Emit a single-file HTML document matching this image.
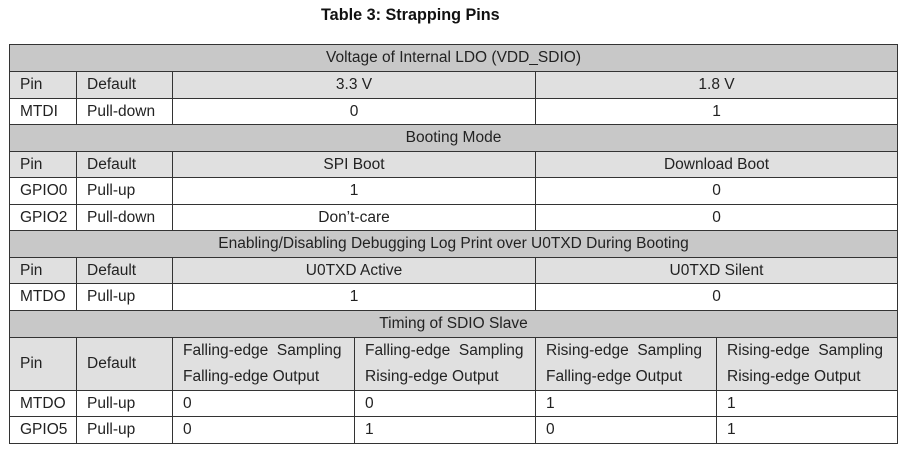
<!DOCTYPE html>
<html><head><meta charset="utf-8"><style>
body{margin:0;width:899px;height:457px;background:#fff;position:relative;overflow:hidden;font-family:"Liberation Sans",Arial,sans-serif;font-size:15.5px;color:#222}
.c{position:absolute;box-sizing:border-box;border:1px solid #333;display:flex;align-items:center;padding-left:10px;white-space:nowrap;line-height:26px}
.s{background:#c8c8c8;justify-content:center;padding:0}
.h{background:#e0e0e0}
.m{justify-content:center;padding:0}
.t{position:absolute;left:321px;top:6px;font-weight:bold;font-size:16.2px;color:#111}
</style></head><body>
<div class="t">Table 3: Strapping Pins</div>
<div id="g"></div>
<script>
var g=document.getElementById('g');
function c(x1,y1,x2,y2,txt,cls){var d=document.createElement('div');d.className='c '+(cls||'');d.style.left=x1+'px';d.style.top=y1+'px';d.style.width=(x2-x1+1)+'px';d.style.height=(y2-y1+1)+'px';d.innerHTML=txt;g.appendChild(d);}
function sec(y1,y2,t){c(9,y1,897,y2,t,'s');}
function row4(y1,y2,a,b,p,q,cls){c(9,y1,76,y2,a,cls);c(76,y1,172,y2,b,cls);c(172,y1,535,y2,p,(cls||'')+' m');c(535,y1,897,y2,q,(cls||'')+' m');}
sec(44,71,'Voltage of Internal LDO (VDD_SDIO)');
row4(71,98,'Pin','Default','3.3 V','1.8 V','h');
row4(98,124,'MTDI','Pull-down','0','1');
sec(124,151,'Booting Mode');
row4(151,177,'Pin','Default','SPI Boot','Download Boot','h');
row4(177,204,'GPIO0','Pull-up','1','0');
row4(204,230,'GPIO2','Pull-down','Don’t-care','0');
sec(230,257,'Enabling/Disabling Debugging Log Print over U0TXD During Booting');
row4(257,283,'Pin','Default','U0TXD Active','U0TXD Silent','h');
row4(283,310,'MTDO','Pull-up','1','0');
sec(310,337,'Timing of SDIO Slave');
var T=[172,354,535,716,897];
c(9,337,76,390,'Pin','h');c(76,337,172,390,'Default','h');
var hh=['Falling-edge&nbsp; Sampling<br>Falling-edge Output','Falling-edge&nbsp; Sampling<br>Rising-edge Output','Rising-edge&nbsp; Sampling<br>Falling-edge Output','Rising-edge&nbsp; Sampling<br>Rising-edge Output'];
for(var i=0;i<4;i++)c(T[i],337,T[i+1],390,'<span style="line-height:26px">'+hh[i]+'</span>','h');
var r1=['0','0','1','1'],r2=['0','1','0','1'];
c(9,390,76,416,'MTDO');c(76,390,172,416,'Pull-up');
for(i=0;i<4;i++)c(T[i],390,T[i+1],416,r1[i]);
c(9,416,76,443,'GPIO5');c(76,416,172,443,'Pull-up');
for(i=0;i<4;i++)c(T[i],416,T[i+1],443,r2[i]);
</script>
</body></html>
